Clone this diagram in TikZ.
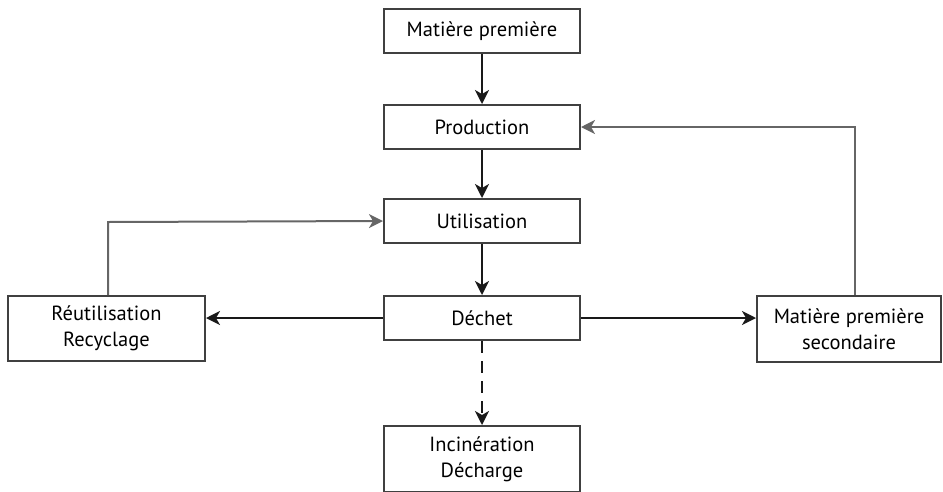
\documentclass[tikz,border=0pt]{standalone}
\usepackage{fontspec}
\setmainfont{PT Sans}
\usetikzlibrary{arrows.meta}
\begin{document}
\begin{tikzpicture}[x=1pt,y=-1pt,
  box/.style={draw=black!75,line width=2pt,fill=white,inner sep=0pt,align=center,font=\fontsize{20.5}{26}\selectfont},
  conn/.style={line width=2pt,draw=black!90,-{Stealth[length=14pt,width=14pt,inset=4pt]}},
  conng/.style={conn,draw=black!60}]
\useasboundingbox (0,0) rectangle (943,491);
\node[box,minimum width=196pt,minimum height=44pt] (mp) at (482,31) {Matière première};
\node[box,minimum width=196pt,minimum height=44pt] (prod) at (482,127) {Production};
\node[box,minimum width=196pt,minimum height=44pt] (util) at (482,221) {Utilisation};
\node[box,minimum width=196pt,minimum height=44pt] (dechet) at (482,318) {Déchet};
\node[box,minimum width=197pt,minimum height=65pt] (reut) at (106.5,328.5) {Réutilisation\\Recyclage};
\node[box,minimum width=184pt,minimum height=66pt] (mps) at (849,329) {Matière première\\secondaire};
\node[box,minimum width=196pt,minimum height=66pt] (inc) at (482,459) {Incinération\\Décharge};
\coordinate (c1) at (855,127);
\coordinate (c2) at (108,222);
\draw[conn] (mp) -- (prod);
\draw[conn] (prod) -- (util);
\draw[conn] (util) -- (dechet);
\draw[conn] (dechet.west) -- (dechet.west -| reut.east);
\draw[conn] (dechet.east) -- (dechet.east -| mps.west);
\draw[conn,dashed,dash pattern=on 12pt off 8pt] (dechet) -- (inc);
\draw[conng] (mps.north -| c1) -- (c1) -- (prod.east);
\draw[conng] (reut.north -| c2) -- (c2) -- (util.west);
\end{tikzpicture}
\end{document}
